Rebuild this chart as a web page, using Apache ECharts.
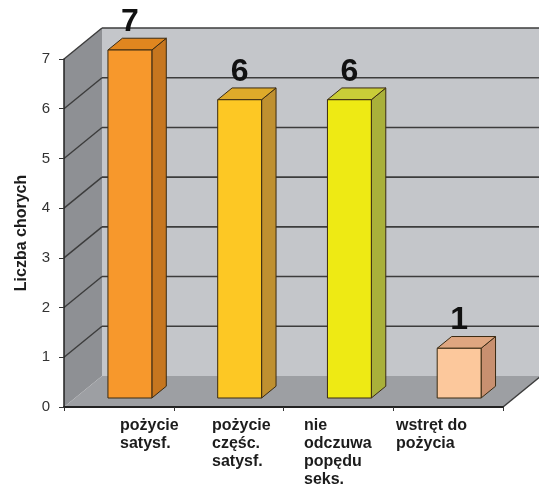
<!DOCTYPE html>
<html>
<head>
<meta charset="utf-8">
<script src="https://cdn.jsdelivr.net/npm/echarts@6/dist/echarts.min.js"></script>
<style>
  html, body { margin: 0; padding: 0; background: #fff; }
  #chart { width: 539px; height: 489px; }
</style>
</head>
<body>
<div id="chart"></div>
<script>
// Chart data
const categories = [
  'pożycie\nsatysf.',
  'pożycie\nczęśc.\nsatysf.',
  'nie\nodczuwa\npopędu\nseks.',
  'wstręt do\npożycia'
];
const patients = [7, 6, 6, 1];
const valueTicks = [0, 1, 2, 3, 4, 5, 6, 7];

// Face shading for each box: front, right side, top
const faceColors = [
  { front: '#f7982c', side: '#c6761f', top: '#e0861f' },
  { front: '#fdc824', side: '#bf9030', top: '#deaa2a' },
  { front: '#eeea14', side: '#a9b03a', top: '#c9cd38' },
  { front: '#fcc89c', side: '#c89070', top: '#dfa680' }
];

const FONT = '"Liberation Sans", Arial, Helvetica, sans-serif';
const DEPTH = [38, -31];          // pixel offset from the front plane to the back wall
const BAR_NEAR = 0.29;            // depth fraction of a box's front face
const BAR_FAR = 0.67;             // depth fraction of a box's back face
const GRID_LINE = '#3c3c3c';

// Back wall, side wall, floor and their gridlines, laid out from the value axis
function renderWalls(params, api) {
  const cs = params.coordSys;
  const x0 = cs.x, x1 = cs.x + cs.width;
  const yt = cs.y, yb = cs.y + cs.height;
  const dx = DEPTH[0], dy = DEPTH[1];
  const children = [
    { type: 'rect', shape: { x: x0 + dx, y: yt + dy, width: cs.width, height: cs.height },
      style: { fill: '#c4c6ca' } },
    { type: 'polygon', shape: { points: [[x0, yb], [x0, yt], [x0 + dx, yt + dy], [x0 + dx, yb + dy]] },
      style: { fill: '#8e9094' } },
    { type: 'polygon', shape: { points: [[x0, yb], [x0 + dx, yb + dy], [x1 + dx, yb + dy], [x1, yb]] },
      style: { fill: '#9d9fa3' } },
    { type: 'line', shape: { x1: x1, y1: yb, x2: x1 + dx, y2: yb + dy },
      style: { stroke: GRID_LINE, lineWidth: 1.5 } }
  ];
  valueTicks.forEach(function (v) {
    if (v === valueTicks[0]) return;
    const y = api.coord([0, v])[1];
    children.push({ type: 'line', shape: { x1: x0 + dx, y1: y + dy, x2: x1 + dx, y2: y + dy },
      style: { stroke: GRID_LINE, lineWidth: 1.6 } });
    children.push({ type: 'line', shape: { x1: x0, y1: y, x2: x0 + dx, y2: y + dy },
      style: { stroke: GRID_LINE, lineWidth: 1.4 } });
  });
  return { type: 'group', children: children };
}

// One shaded box per category, with its value written above it
function renderBox(params, api) {
  const i = api.value(0), v = api.value(1);
  const c = faceColors[params.dataIndex];
  const base = api.coord([i, 0]);
  const top = api.coord([i, v]);
  const half = api.size([1, 0])[0] * 0.2;
  const nx = DEPTH[0] * BAR_NEAR, ny = DEPTH[1] * BAR_NEAR;
  const fx = DEPTH[0] * (BAR_FAR - BAR_NEAR), fy = DEPTH[1] * (BAR_FAR - BAR_NEAR);
  const L = base[0] + nx - half, R = base[0] + nx + half;
  const B = base[1] + ny, T = top[1] + ny;
  const edge = { stroke: '#3a2a12', lineWidth: 1, lineJoin: 'round' };
  return {
    type: 'group',
    children: [
      { type: 'polygon', shape: { points: [[R, T], [R + fx, T + fy], [R + fx, B + fy], [R, B]] },
        style: Object.assign({ fill: c.side }, edge) },
      { type: 'polygon', shape: { points: [[L, T], [L + fx, T + fy], [R + fx, T + fy], [R, T]] },
        style: Object.assign({ fill: c.top }, edge) },
      { type: 'rect', shape: { x: L, y: T, width: R - L, height: B - T },
        style: Object.assign({ fill: c.front }, edge) },
      { type: 'text',
        style: { text: String(v), x: (L + R) / 2, y: T + fy - 16, align: 'center', verticalAlign: 'middle',
                 fontSize: 32, fontWeight: 'bold', fontFamily: FONT, fill: '#111' } }
    ]
  };
}

const chart = echarts.init(document.getElementById('chart'));
chart.setOption({
  animation: false,
  backgroundColor: '#ffffff',
  grid: [
    { left: 64, right: 36, top: 59, bottom: 82 },
    // band carrying the category captions
    { left: 74, right: 97, top: 59, bottom: 82 }
  ],
  xAxis: [
    {
      gridIndex: 0, type: 'category', data: categories, boundaryGap: true, z: 3,
      axisLine: { show: true, lineStyle: { color: '#222', width: 2 } },
      axisTick: { show: true, length: 4, lineStyle: { color: '#333', width: 1 } },
      axisLabel: { show: false },
      splitLine: { show: false }
    },
    {
      gridIndex: 1, type: 'category', data: categories, boundaryGap: true,
      axisLine: { show: false }, axisTick: { show: false }, splitLine: { show: false },
      axisLabel: {
        interval: 0, align: 'left', margin: 12, fontSize: 16, fontWeight: 'bold',
        lineHeight: 18, color: '#1c1c1c', fontFamily: FONT
      }
    }
  ],
  yAxis: [
    {
      gridIndex: 0, type: 'value', z: 3,
      min: valueTicks[0], max: valueTicks[valueTicks.length - 1], interval: 1,
      name: 'Liczba chorych', nameLocation: 'middle', nameGap: 34, nameRotate: 90,
      nameTextStyle: { fontSize: 16, fontWeight: 'bold', color: '#1c1c1c', fontFamily: FONT },
      axisLine: { show: true, lineStyle: { color: '#222', width: 1.5 } },
      axisTick: { show: true, length: 5, lineStyle: { color: '#333', width: 1 } },
      axisLabel: { fontSize: 15, color: '#333', margin: 14, fontFamily: FONT },
      splitLine: { show: false }
    },
    { gridIndex: 1, type: 'value', min: 0, max: 7, show: false }
  ],
  series: [
    {
      name: 'walls', type: 'custom', xAxisIndex: 0, yAxisIndex: 0, z: 1, silent: true,
      renderItem: renderWalls, data: [[0, 0]]
    },
    {
      name: 'Liczba chorych', type: 'custom', xAxisIndex: 0, yAxisIndex: 0, z: 5,
      renderItem: renderBox,
      data: patients.map(function (v, i) { return [i, v]; })
    }
  ]
});
</script>
</body>
</html>
